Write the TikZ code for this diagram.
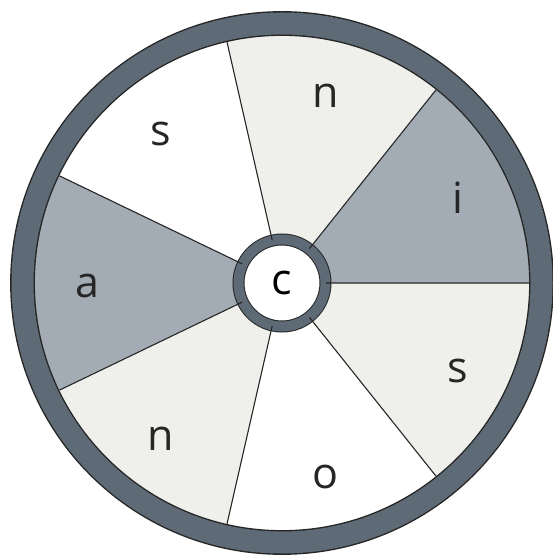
\documentclass[tikz,border=0pt]{standalone}
\usepackage{fontspec}
\setmainfont{Open Sans}
\definecolor{rimgray}{HTML}{5E6A75}
\definecolor{darkseg}{HTML}{A3ACB4}
\definecolor{lightseg}{HTML}{EFEFEC}
\tikzset{rim/.style={draw=black!85,line width=1.4pt,double=rimgray,double distance=22pt},
 hub/.style={circle,fill=white,draw=black!85,line width=1pt,double=rimgray,double distance=10pt,minimum size=87pt,inner sep=0pt,font=\fontsize{43}{43}\selectfont},
 spoke/.style={draw=black!85,line width=1.1pt},
 lbl/.style={anchor=base,yshift=-15pt,font=\fontsize{43}{43}\selectfont,text=black!85}}
\begin{document}
\begin{tikzpicture}[x=1pt,y=1pt]
\useasboundingbox (-282,-273) rectangle (271,283);
\fill[darkseg](0,0)--(0:248)arc(0:51.43:248)--cycle;
\fill[lightseg](0,0)--(51.43:248)arc(51.43:102.86:248)--cycle;
\fill[white](0,0)--(102.86:248)arc(102.86:154.29:248)--cycle;
\fill[darkseg](0,0)--(154.29:248)arc(154.29:205.71:248)--cycle;
\fill[lightseg](0,0)--(205.71:248)arc(205.71:257.14:248)--cycle;
\fill[white](0,0)--(257.14:248)arc(257.14:308.57:248)--cycle;
\fill[lightseg](0,0)--(308.57:248)arc(308.57:360:248)--cycle;
\node[hub](c) at(0,0){c};
\coordinate(r0) at(0:247);\coordinate(r1) at(51.43:247);\coordinate(r2) at(102.86:247);
\coordinate(r3) at(154.29:247);\coordinate(r4) at(205.71:247);\coordinate(r5) at(257.14:247);
\coordinate(r6) at(308.57:247);
\draw[spoke](c)--(r0)(c)--(r1)(c)--(r2)(c)--(r3)(c)--(r4)(c)--(r5)(c)--(r6);
\draw[rim](0,0) circle(259.5);
\node[lbl](li) at(25.71:195){i};
\node[lbl](ln) at(77.14:195){n};
\node[lbl](ls) at(128.57:195){s};
\node[lbl](la) at(180:195){a};
\node[lbl](lm) at(231.43:195){n};
\node[lbl](lo) at(282.86:195){o};
\node[lbl](lt) at(334.29:195){s};
\end{tikzpicture}
\end{document}
